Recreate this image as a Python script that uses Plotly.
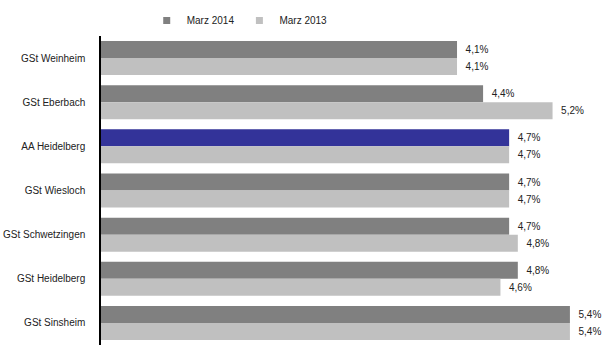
import plotly.graph_objects as go

categories = ["GSt Weinheim", "GSt Eberbach", "AA Heidelberg", "GSt Wiesloch",
              "GSt Schwetzingen", "GSt Heidelberg", "GSt Sinsheim"]
values_2014 = [4.1, 4.4, 4.7, 4.7, 4.7, 4.8, 5.4]
values_2013 = [4.1, 5.2, 4.7, 4.7, 4.8, 4.6, 5.4]
series_names = ["Marz 2014", "Marz 2013"]

DARK = "#808080"
LIGHT = "#c0c0c0"
BLUE = "#333399"
FONT = "Liberation Sans, Arial, sans-serif"

colors_2014 = [BLUE if c == "AA Heidelberg" else DARK for c in categories]

fig = go.Figure()
fig.add_trace(go.Bar(
    y=categories, x=values_2014, orientation="h", name=series_names[0],
    marker=dict(color=colors_2014, line=dict(width=0)),
    texttemplate="\u00a0\u00a0%{x:.1f}%", textposition="outside",
    textfont=dict(size=10, color="#222222", family=FONT),
    cliponaxis=False, showlegend=False,
))
fig.add_trace(go.Bar(
    y=categories, x=values_2013, orientation="h", name=series_names[1],
    marker=dict(color=LIGHT, line=dict(width=0)),
    texttemplate="\u00a0\u00a0%{x:.1f}%", textposition="outside",
    textfont=dict(size=10, color="#222222", family=FONT),
    cliponaxis=False, showlegend=False,
))
# legend entries
for name, col in zip(series_names, [DARK, LIGHT]):
    fig.add_trace(go.Scatter(
        x=[None], y=[None], mode="markers", name=name,
        marker=dict(symbol="square", size=7, color=col),
    ))

fig.update_layout(
    width=609, height=350,
    margin=dict(l=101, r=0, t=36, b=5),
    paper_bgcolor="white", plot_bgcolor="white",
    barmode="group", bargap=0.23, bargroupgap=0,
    separators=",.",
    font=dict(family=FONT, size=10, color="#222222"),
    showlegend=True,
    legend=dict(orientation="h", x=0.09, xanchor="left", y=1.05, yanchor="middle",
                font=dict(size=10, family=FONT, color="#222222"),
                itemwidth=30, tracegroupgap=0),
    xaxis=dict(range=[0, 5.85], visible=False, showgrid=False, zeroline=False),
    yaxis=dict(autorange="reversed", showgrid=False, zeroline=False,
               showline=True, linecolor="#000000", linewidth=1.5,
               ticks="", ticklabelstandoff=12,
               tickfont=dict(size=10, family=FONT, color="#222222")),
)

fig.write_html("out.html")
